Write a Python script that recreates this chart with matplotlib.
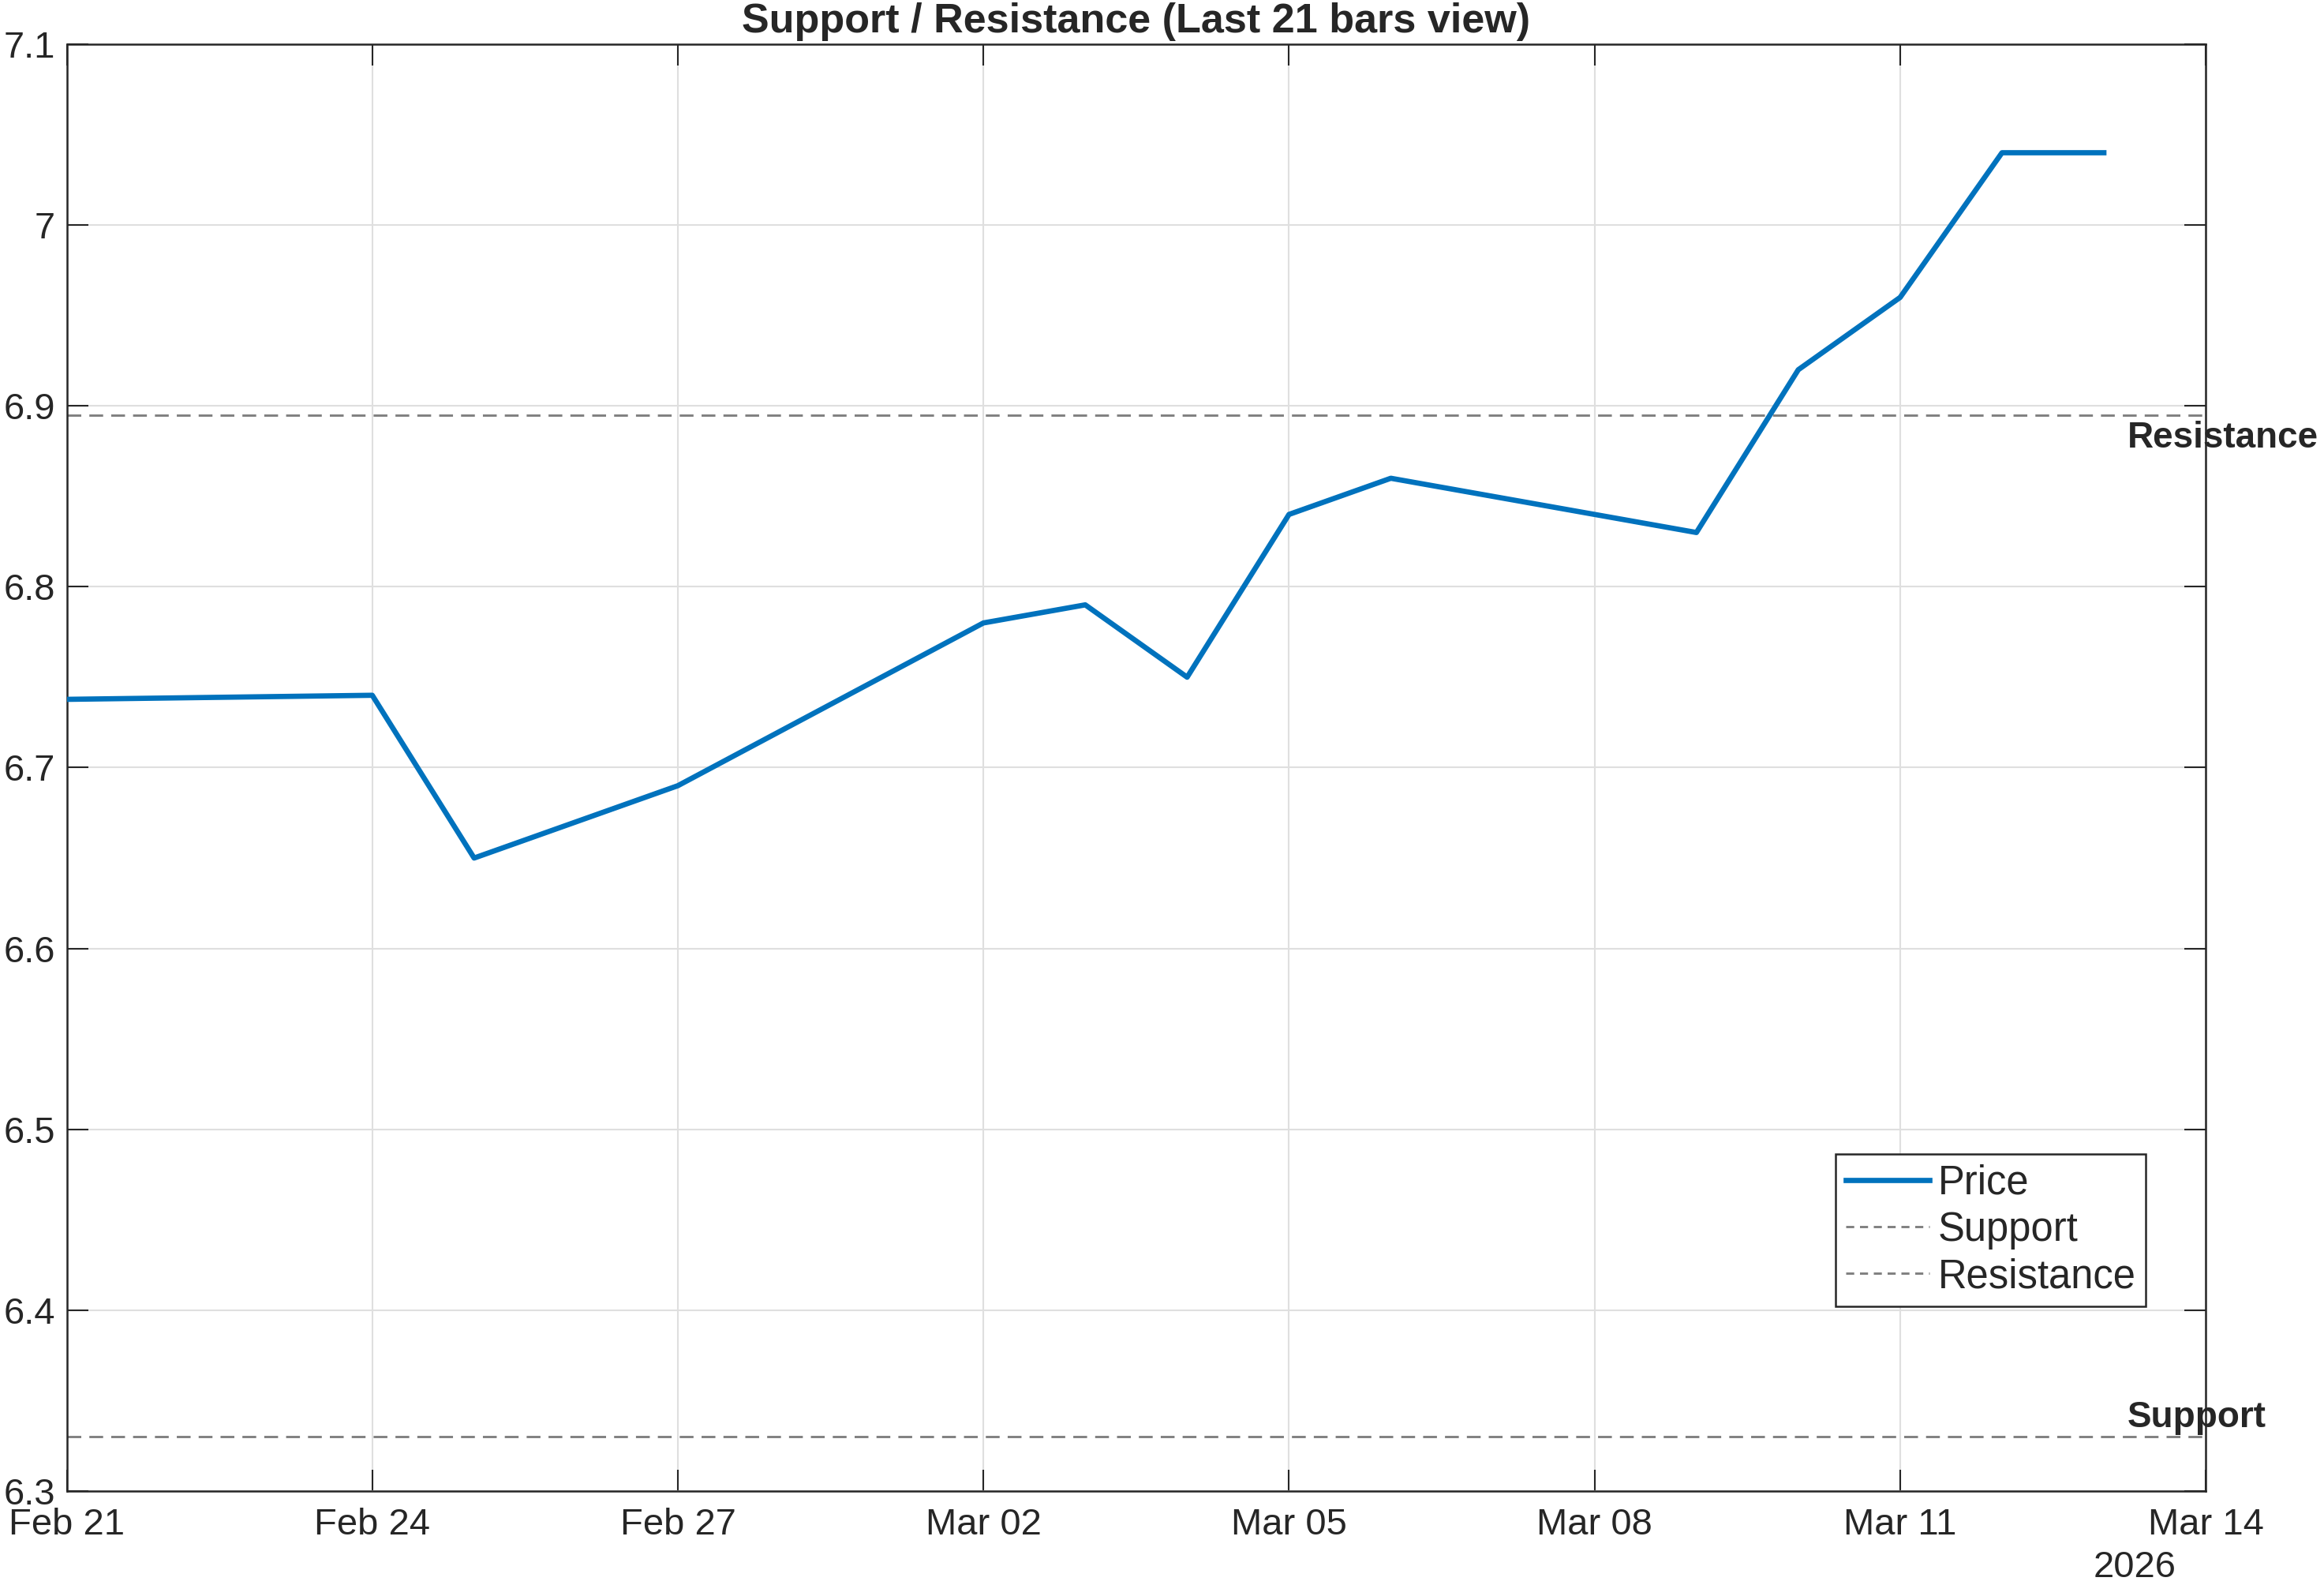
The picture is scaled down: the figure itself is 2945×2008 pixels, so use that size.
import matplotlib
matplotlib.use('Agg')
import matplotlib.pyplot as plt
import matplotlib.dates as mdates
import numpy as np
from datetime import datetime

# price series
dates = ['2026-02-20', '2026-02-24', '2026-02-25', '2026-02-27', '2026-03-02',
         '2026-03-03', '2026-03-04', '2026-03-05', '2026-03-06', '2026-03-09',
         '2026-03-10', '2026-03-11', '2026-03-12', '2026-03-13']
price = [6.737, 6.740, 6.650, 6.690, 6.780, 6.790, 6.750, 6.840, 6.860, 6.830,
         6.920, 6.960, 7.040, 7.040]

support = 6.33
resistance = 6.895

x_start = '2026-02-21'
x_end = '2026-03-14'
y_ticks = [6.3, 6.4, 6.5, 6.6, 6.7, 6.8, 6.9, 7.0, 7.1]
y_tick_labels = ['6.3', '6.4', '6.5', '6.6', '6.7', '6.8', '6.9', '7', '7.1']

plt.rcParams['font.family'] = ['Liberation Sans', 'DejaVu Sans']

d = [datetime.strptime(s, '%Y-%m-%d') for s in dates]
x0 = datetime.strptime(x_start, '%Y-%m-%d')
x1 = datetime.strptime(x_end, '%Y-%m-%d')

fig = plt.figure(figsize=(2945 / 300, 2008 / 300), dpi=300)
ax = fig.add_axes([0.0287, 0.0593, 0.9204, 0.9128])

txt = '#262626'
blue = '#0072BD'
grey = '#808080'

ax.plot(d, price, color=blue, lw=1.6, label='Price', zorder=3)
ax.axhline(support, color=grey, lw=0.7, linestyle=(0, (6, 3.5)), label='Support')
ax.axhline(resistance, color=grey, lw=0.7, linestyle=(0, (6, 3.5)), label='Resistance')

ax.set_xlim(x0, x1)
ax.set_ylim(6.3, 7.1)
ax.set_yticks(y_ticks)
ax.set_yticklabels(y_tick_labels)
ax.xaxis.set_major_locator(mdates.DayLocator(bymonthday=[21, 24, 27, 2, 5, 8, 11, 14]))
ax.xaxis.set_major_formatter(mdates.DateFormatter('%b %d'))

ax.grid(True, color='#DFDFDF', lw=0.5)
ax.set_axisbelow(True)
for sp in ax.spines.values():
    sp.set_color(txt)
    sp.set_linewidth(0.6)
ax.tick_params(direction='in', length=6.5, width=0.5, color=txt, labelcolor=txt,
               labelsize=11.3, top=True, right=True)
ax.tick_params(axis='y', pad=3.5)
ax.tick_params(axis='x', pad=5)

ax.set_title('Support / Resistance (Last 21 bars view)', fontsize=12.5,
             fontweight='bold', color=txt, pad=3.5)

# labels next to the lines
lab_x = mdates.date2num(d[-1]) + 0.23
ax.text(lab_x, 6.877, 'Resistance', fontsize=11, fontweight='bold', color=txt,
        ha='left', va='baseline', clip_on=False)
ax.text(lab_x, 6.3355, 'Support', fontsize=11, fontweight='bold', color=txt,
        ha='left', va='baseline', clip_on=False)

# year under the date axis
ax.text(0.9667, -0.053, '2026', transform=ax.transAxes, fontsize=11.3, color=txt,
        ha='center', va='center')

leg = ax.legend(loc='lower right', bbox_to_anchor=(0.972, 0.1277), fontsize=12.2,
                frameon=True, fancybox=False, framealpha=1, edgecolor=txt,
                handlelength=2.1, handletextpad=0.2, labelspacing=0.2,
                borderpad=0.25, borderaxespad=0)
leg.get_frame().set_linewidth(0.6)
for t in leg.get_texts():
    t.set_color(txt)
for h in leg.get_lines()[1:]:
    h.set_linestyle((0, (3.5, 2.5)))

fig.savefig('out.png', dpi=300)
